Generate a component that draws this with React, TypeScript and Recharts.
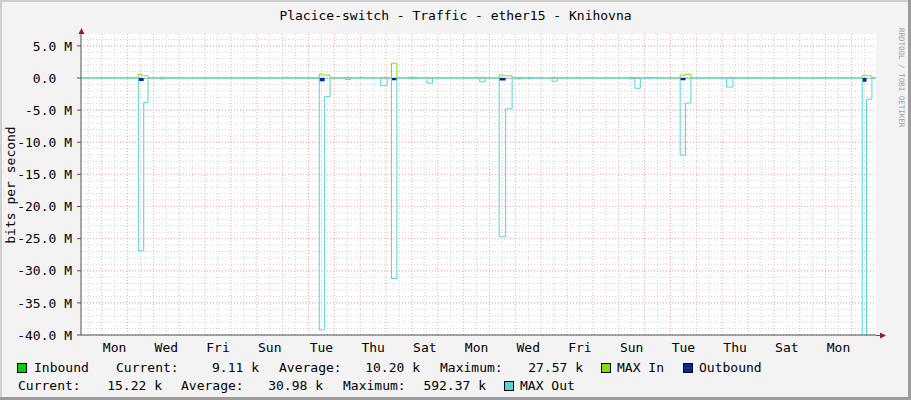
import React from "react";
import { ComposedChart, Line, Area, XAxis, YAxis, CartesianGrid } from "recharts";

const FONT = "'DejaVu Sans Mono', monospace";

// hours since the first Monday 00:00; each value holds until the next entry (step graph)
const hours = [
  -19.2, 34, 37, 39, 43, 54, 58, 170, 173, 202, 205, 207, 212, 226, 231, 240, 244, 259, 265, 269,
  274, 284, 293, 302, 307, 346, 351, 356, 369, 372, 375, 381, 386, 390, 396, 400, 418, 423, 440,
  444, 489, 495, 500, 506, 510, 537, 542, 547, 580, 586, 706, 710, 715, 718.8,
];
// values in Mbit/s
const maxIn = [
  0.02, 0.6, 0.35, 0.35, 0.02, 0.12, 0.02, 0.1, 0.02, 0.6, 0.45, 0.45, 0.02, 0.12, 0.02, 0.1, 0.02,
  0.1, 0.02, 2.3, 0.02, 0.12, 0.02, 0.05, 0.02, 0.1, 0.1, 0.02, 0.5, 0.35, 0.35, 0.02, 0.1, 0.02,
  0.1, 0.02, 0.1, 0.02, 0.1, 0.02, 0.1, 0.05, 0.02, 0.08, 0.02, 0.45, 0.6, 0.02, 0.1, 0.02, 0.45,
  0.35, 0.02, 0.02,
];
const maxOut = [
  -0.02, -26.9, -26.9, -3.8, -0.02, -0.15, -0.02, -0.03, -0.02, -39.2, -39.2, -2.9, -0.02, -0.25,
  -0.02, -0.03, -0.02, -1.2, -0.02, -31.2, -0.02, -0.05, -0.02, -0.8, -0.02, -0.03, -0.6, -0.02,
  -24.7, -24.7, -4.8, -0.02, -0.15, -0.02, -0.1, -0.02, -0.5, -0.02, -0.03, -0.02, -0.12, -1.6,
  -0.02, -0.03, -0.02, -12.0, -3.9, -0.02, -1.4, -0.02, -46.0, -3.3, -0.02, -0.02,
];
const inbound = [
  0.008, 0.027, 0.02, 0.015, 0.008, 0.01, 0.008, 0.009, 0.008, 0.027, 0.022, 0.015, 0.008, 0.01,
  0.008, 0.009, 0.008, 0.01, 0.008, 0.027, 0.008, 0.01, 0.008, 0.009, 0.008, 0.009, 0.01, 0.008,
  0.025, 0.02, 0.015, 0.008, 0.01, 0.008, 0.01, 0.008, 0.01, 0.008, 0.009, 0.008, 0.01, 0.009,
  0.008, 0.009, 0.008, 0.022, 0.025, 0.008, 0.01, 0.008, 0.022, 0.015, 0.008, 0.009,
];
const outbound = [
  -0.012, -0.45, -0.45, -0.05, -0.012, -0.02, -0.012, -0.015, -0.012, -0.5, -0.5, -0.05, -0.012,
  -0.02, -0.012, -0.015, -0.012, -0.05, -0.012, -0.35, -0.012, -0.02, -0.012, -0.03, -0.012, -0.015,
  -0.03, -0.012, -0.4, -0.4, -0.05, -0.012, -0.02, -0.012, -0.02, -0.012, -0.03, -0.012, -0.015,
  -0.012, -0.02, -0.05, -0.012, -0.015, -0.012, -0.35, -0.05, -0.012, -0.05, -0.012, -0.59, -0.05,
  -0.012, -0.015,
];

const dayNames = ["Mon", "Tue", "Wed", "Thu", "Fri", "Sat", "Sun"];
const dayTicks = [12, 60, 108, 156, 204, 252, 300, 348, 396, 444, 492, 540, 588, 636, 684];
const valueTicks = [-40, -35, -30, -25, -20, -15, -10, -5, 0, 5];
const minorValues = Array.from({ length: 47 }, (_, i) => i - 40);
const midnights = Array.from({ length: 30 }, (_, i) => i * 24);
const noons = Array.from({ length: 31 }, (_, i) => i * 24 - 12);

const rows = hours.map((t, i) => ({
  t,
  maxIn: maxIn[i],
  maxOut: maxOut[i],
  inbound: inbound[i],
  outbound: outbound[i],
}));

const scaleOf = (axis: any) => {
  const s = axis && axis.scale;
  if (!s) return (v: number) => v;
  return typeof s === "function" ? (v: number) => s(v) : (v: number) => s.map(v);
};

const gridY = (values: number[]) => ({ yAxis }: any) => values.map((v) => scaleOf(yAxis)(v));
const gridX = (values: number[]) => ({ xAxis }: any) =>
  values.filter((v) => v > -19.2 && v < 718.8).map((v) => scaleOf(xAxis)(v));

const ValueTick = ({ x, y, payload }: any) => {
  const v = payload.value;
  const label = v === 0 ? "0.0  " : `${v.toFixed(1)} M`;
  return (
    <text x={x} y={y} dy="0.36em" textAnchor="end" fontFamily={FONT} fontSize={13} fill="#000" style={{ whiteSpace: "pre" }}>
      {label}
    </text>
  );
};

const Swatch = ({ x, y, color }: { x: number; y: number; color: string }) => (
  <rect x={x + 0.5} y={y + 0.5} width={9} height={9} fill={color} stroke="#000" strokeWidth={1} />
);

export default function App() {
  const txt = { fontFamily: FONT, fontSize: 13, fill: "#000" } as const;
  return (
    <div style={{ position: "absolute", left: 0, top: 0, width: 911, height: 400, background: "#F3F3F3", overflow: "hidden" }}>
      <ComposedChart width={911} height={400} data={rows} margin={{ top: 34, right: 35, bottom: 45, left: 0 }}>
        <CartesianGrid
          fill="#FFFFFF"
          stroke="#D2D2D2"
          strokeDasharray="1 2"
          horizontalCoordinatesGenerator={gridY(minorValues)}
          verticalCoordinatesGenerator={gridX(noons)}
        />
        <CartesianGrid
          stroke="#F3ABAB"
          strokeDasharray="1 2"
          horizontalCoordinatesGenerator={gridY(valueTicks)}
          verticalCoordinatesGenerator={gridX(midnights)}
        />
        <XAxis
          dataKey="t"
          type="number"
          domain={[-19.2, 718.8]}
          allowDataOverflow
          ticks={dayTicks}
          interval={0}
          tickFormatter={(v: number) => dayNames[Math.floor(v / 24) % 7]}
          height={20}
          tickLine={false}
          axisLine={{ stroke: "#555555" }}
          tick={{ fill: "#000", fontSize: 13, fontFamily: FONT }}
        />
        <YAxis
          type="number"
          domain={[-40, 6.85]}
          allowDataOverflow
          ticks={valueTicks}
          interval={0}
          width={81}
          tickSize={4}
          tickMargin={5}
          tickLine={{ stroke: "#555555" }}
          axisLine={{ stroke: "#555555" }}
          tick={<ValueTick />}
        />
        <Area dataKey="inbound" type="stepAfter" fill="#00CF00" fillOpacity={1} stroke="none" baseValue={0} isAnimationActive={false} />
        <Line dataKey="maxIn" type="stepAfter" stroke="#7FE000" strokeWidth={1} dot={false} activeDot={false} isAnimationActive={false} />
        <Area dataKey="outbound" type="stepAfter" fill="#002A97" fillOpacity={1} stroke="none" baseValue={0} isAnimationActive={false} />
        <Line dataKey="maxOut" type="stepAfter" stroke="#55D6D6" strokeWidth={1} dot={false} activeDot={false} isAnimationActive={false} />
      </ComposedChart>

      <svg width={911} height={400} style={{ position: "absolute", left: 0, top: 0, pointerEvents: "none" }}>
        {/* frame */}
        <rect x={0} y={0} width={911} height={2} fill="#CFCFCF" />
        <rect x={0} y={0} width={2} height={400} fill="#CFCFCF" />
        <rect x={908} y={0} width={3} height={400} fill="#9C9C9C" />
        <rect x={0} y={397} width={911} height={3} fill="#9C9C9C" />

        <text x={455.5} y={20} textAnchor="middle" {...txt}>
          Placice-switch - Traffic - ether15 - Knihovna
        </text>
        <text transform="translate(14.5,185) rotate(-90)" textAnchor="middle" {...txt}>
          bits per second
        </text>
        <text transform="translate(898.5,28) rotate(90)" fontFamily={FONT} fontSize={7.5} fill="#A0A0A0">
          RRDTOOL / TOBI OETIKER
        </text>

        {/* axis arrows */}
        <line x1={81.5} y1={34} x2={81.5} y2={30} stroke="#555555" />
        <polygon points="78.5,34 84.5,34 81.5,28" fill="#9B1C1C" />
        <line x1={876} y1={335.5} x2={881} y2={335.5} stroke="#555555" />
        <polygon points="880,332.5 880,338.5 886,335.5" fill="#9B1C1C" />

        {/* legend */}
        <Swatch x={17} y={363} color="#00CF00" />
        <text x={34} y={372} {...txt}>Inbound</text>
        <text x={116} y={372} {...txt}>Current:</text>
        <text x={259} y={372} textAnchor="end" {...txt}>9.11 k</text>
        <text x={279} y={372} {...txt}>Average:</text>
        <text x={420} y={372} textAnchor="end" {...txt}>10.20 k</text>
        <text x={440} y={372} {...txt}>Maximum:</text>
        <text x={583} y={372} textAnchor="end" {...txt}>27.57 k</text>
        <Swatch x={601} y={363} color="#7FE000" />
        <text x={617} y={372} {...txt}>MAX In</text>
        <Swatch x={683} y={363} color="#002A97" />
        <text x={699} y={372} {...txt}>Outbound</text>

        <text x={18} y={390} {...txt}>Current:</text>
        <text x={162} y={390} textAnchor="end" {...txt}>15.22 k</text>
        <text x={181} y={390} {...txt}>Average:</text>
        <text x={323} y={390} textAnchor="end" {...txt}>30.98 k</text>
        <text x={343} y={390} {...txt}>Maximum:</text>
        <text x={486} y={390} textAnchor="end" {...txt}>592.37 k</text>
        <Swatch x={504} y={381} color="#55D6D6" />
        <text x={520} y={390} {...txt}>MAX Out</text>
      </svg>
    </div>
  );
}
